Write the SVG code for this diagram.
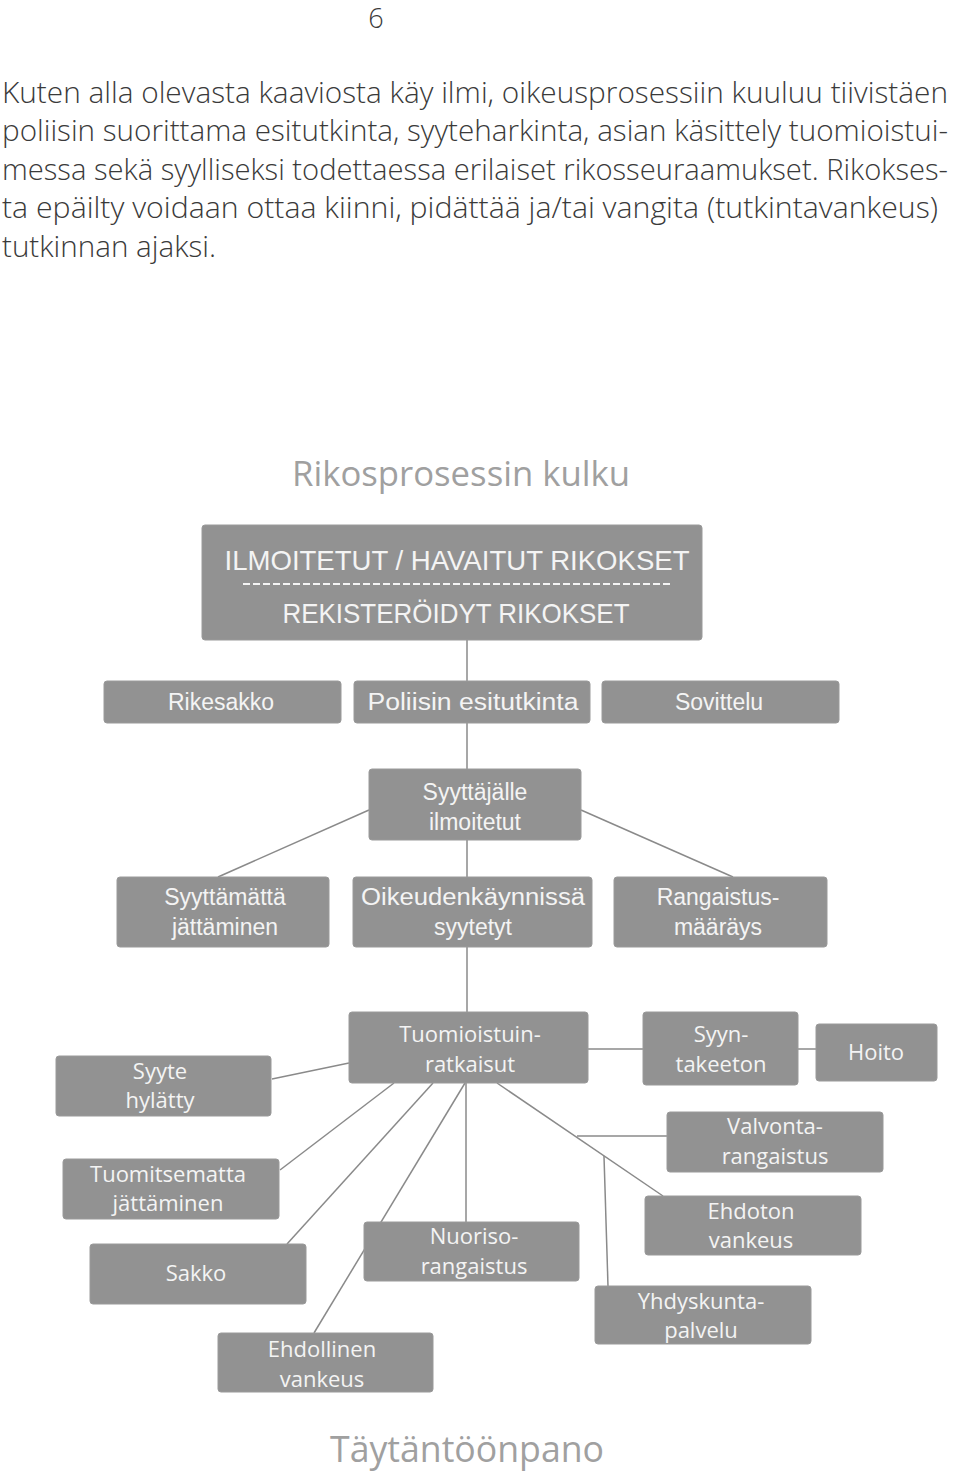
<svg xmlns="http://www.w3.org/2000/svg" width="960" height="1472" viewBox="0 0 960 1472">
<style>
.bg{fill:#ffffff}
.para{font-family:"Open Sans","Noto Sans",sans-serif;font-weight:300;font-size:29px;fill:#3a3a3a}
.title{font-family:"Open Sans","Noto Sans",sans-serif;font-size:34px;fill:#a0a0a0;text-anchor:middle}
.box{fill:#929292;stroke:#9a9a9a;stroke-width:1}
.t1{font-family:"Liberation Sans",Arial,sans-serif;font-size:23px;fill:#f4f4f4;text-anchor:middle}
.t2{font-family:"Open Sans","Noto Sans",sans-serif;font-size:22px;fill:#f4f4f4;text-anchor:middle}
.tb{font-family:"Liberation Sans",Arial,sans-serif;font-size:28px;fill:#f4f4f4;text-anchor:middle}
.conn line{stroke:#8a8a8a;stroke-width:1.5;fill:none}
.sep{stroke:#f4f4f4;stroke-width:2;stroke-dasharray:7 3}
</style>
<rect class="bg" x="0" y="0" width="960" height="1472"/>
<text x="376" y="28" style="font-family:'Open Sans','Noto Sans',sans-serif;font-weight:300;font-size:27px;fill:#3a3a3a" text-anchor="middle">6</text>
<g id="paragraph">
<text class="para" x="2" y="103" textLength="946" lengthAdjust="spacingAndGlyphs">Kuten alla olevasta kaaviosta käy ilmi, oikeusprosessiin kuuluu tiivistäen</text>
<text class="para" x="2" y="141" textLength="946" lengthAdjust="spacingAndGlyphs">poliisin suorittama esitutkinta, syyteharkinta, asian käsittely tuomioistui-</text>
<text class="para" x="2" y="180" textLength="946" lengthAdjust="spacingAndGlyphs">messa sekä syylliseksi todettaessa erilaiset rikosseuraamukset. Rikokses-</text>
<text class="para" x="2" y="218" textLength="936" lengthAdjust="spacingAndGlyphs">ta epäilty voidaan ottaa kiinni, pidättää ja/tai vangita (tutkintavankeus)</text>
<text class="para" x="2" y="257" textLength="214" lengthAdjust="spacingAndGlyphs">tutkinnan ajaksi.</text>
</g>
<text class="title" x="461" y="486" textLength="338" lengthAdjust="spacingAndGlyphs">Rikosprosessin kulku</text>
<g class="conn" id="connectors">
<line x1="467" y1="640" x2="467" y2="681"/>
<line x1="467" y1="723" x2="467" y2="769"/>
<line x1="467" y1="840" x2="467" y2="877"/>
<line x1="369" y1="810" x2="218" y2="877"/>
<line x1="581" y1="810" x2="733" y2="877"/>
<line x1="467" y1="947" x2="467" y2="1012"/>
<line x1="272" y1="1079" x2="349" y2="1063"/>
<line x1="280" y1="1170" x2="394" y2="1083"/>
<line x1="287" y1="1244" x2="433" y2="1083"/>
<line x1="465" y1="1083" x2="314" y2="1333"/>
<line x1="466" y1="1083" x2="466" y2="1222"/>
<line x1="588" y1="1049" x2="643" y2="1049"/>
<line x1="798" y1="1049" x2="816" y2="1049"/>
<line x1="497" y1="1083" x2="663" y2="1196"/>
<line x1="577" y1="1136" x2="667" y2="1136"/>
<line x1="604" y1="1156" x2="608" y2="1286"/>
</g>
<g id="n-top">
<rect class="box" x="202" y="525" width="500" height="115" rx="3"/>
<text class="tb" x="457" y="570" textLength="465" lengthAdjust="spacingAndGlyphs">ILMOITETUT / HAVAITUT RIKOKSET</text>
<line class="sep" x1="243" y1="584" x2="672" y2="584"/>
<text class="tb" x="456" y="623" textLength="347" lengthAdjust="spacingAndGlyphs">REKISTERÖIDYT RIKOKSET</text>
</g>
<g id="n-rikesakko"><rect class="box" x="104" y="681" width="237" height="42" rx="3"/><text class="t1" x="221" y="710">Rikesakko</text></g>
<g id="n-poliisin"><rect class="box" x="354" y="681" width="236" height="42" rx="3"/><text class="t1" x="473" y="710" textLength="211" lengthAdjust="spacingAndGlyphs">Poliisin esitutkinta</text></g>
<g id="n-sovittelu"><rect class="box" x="602" y="681" width="237" height="42" rx="3"/><text class="t1" x="719" y="710">Sovittelu</text></g>
<g id="n-syyttajalle"><rect class="box" x="369" y="769" width="212" height="71" rx="3"/><text class="t1" x="475" y="800">Syyttäjälle</text><text class="t1" x="475" y="830">ilmoitetut</text></g>
<g id="n-syyttamatta"><rect class="box" x="117" y="877" width="212" height="70" rx="3"/><text class="t1" x="225" y="905">Syyttämättä</text><text class="t1" x="225" y="935">jättäminen</text></g>
<g id="n-oikeudenkaynnissa"><rect class="box" x="353" y="877" width="239" height="70" rx="3"/><text class="t1" x="473" y="905" textLength="224" lengthAdjust="spacingAndGlyphs">Oikeudenkäynnissä</text><text class="t1" x="473" y="935">syytetyt</text></g>
<g id="n-rangaistusmaarays"><rect class="box" x="614" y="877" width="213" height="70" rx="3"/><text class="t1" x="718" y="905">Rangaistus-</text><text class="t1" x="718" y="935">määräys</text></g>
<g id="n-ratkaisut"><rect class="box" x="349" y="1012" width="239" height="71" rx="3"/><text class="t2" x="470" y="1042">Tuomioistuin-</text><text class="t2" x="470" y="1072">ratkaisut</text></g>
<g id="n-syyte"><rect class="box" x="56" y="1056" width="215" height="60" rx="3"/><text class="t2" x="160" y="1079">Syyte</text><text class="t2" x="160" y="1108">hylätty</text></g>
<g id="n-tuomitsematta"><rect class="box" x="63" y="1159" width="216" height="60" rx="3"/><text class="t2" x="168" y="1182">Tuomitsematta</text><text class="t2" x="168" y="1211">jättäminen</text></g>
<g id="n-sakko"><rect class="box" x="90" y="1244" width="216" height="60" rx="3"/><text class="t2" x="196" y="1281">Sakko</text></g>
<g id="n-ehdollinen"><rect class="box" x="218" y="1333" width="215" height="59" rx="3"/><text class="t2" x="322" y="1357">Ehdollinen</text><text class="t2" x="322" y="1387">vankeus</text></g>
<g id="n-nuoriso"><rect class="box" x="364" y="1222" width="215" height="59" rx="3"/><text class="t2" x="474" y="1244">Nuoriso-</text><text class="t2" x="474" y="1274">rangaistus</text></g>
<g id="n-syyntakeeton"><rect class="box" x="643" y="1012" width="155" height="73" rx="3"/><text class="t2" x="721" y="1042">Syyn-</text><text class="t2" x="721" y="1072">takeeton</text></g>
<g id="n-hoito"><rect class="box" x="816" y="1024" width="121" height="57" rx="3"/><text class="t2" x="876" y="1060">Hoito</text></g>
<g id="n-valvonta"><rect class="box" x="667" y="1112" width="216" height="60" rx="3"/><text class="t2" x="775" y="1134">Valvonta-</text><text class="t2" x="775" y="1164">rangaistus</text></g>
<g id="n-ehdoton"><rect class="box" x="645" y="1196" width="216" height="59" rx="3"/><text class="t2" x="751" y="1219">Ehdoton</text><text class="t2" x="751" y="1248">vankeus</text></g>
<g id="n-yhdyskunta"><rect class="box" x="595" y="1286" width="216" height="58" rx="3"/><text class="t2" x="701" y="1309">Yhdyskunta-</text><text class="t2" x="701" y="1338">palvelu</text></g>
<text class="title" x="467" y="1462" style="font-size:36px" textLength="274" lengthAdjust="spacingAndGlyphs">Täytäntöönpano</text>
</svg>
